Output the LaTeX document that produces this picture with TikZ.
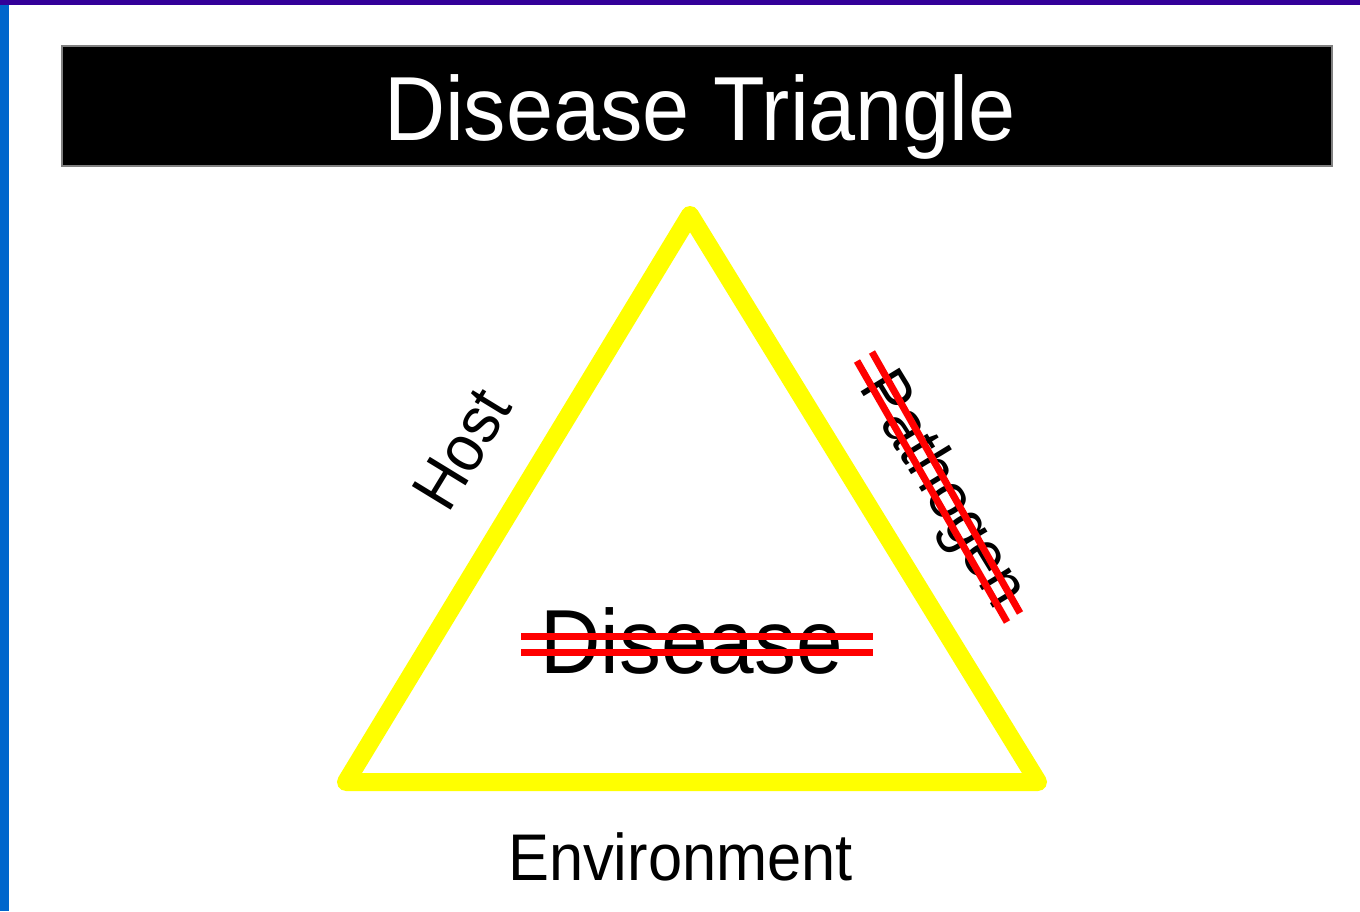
\documentclass[tikz,border=0pt]{standalone}
\usepackage{fontspec}
\setmainfont{Liberation Sans}
\definecolor{topbar}{HTML}{330099}
\definecolor{sidebar}{HTML}{0066CC}
\definecolor{triyellow}{HTML}{FFFF00}
\definecolor{strike}{HTML}{FF0000}
\tikzset{
  lbl/.style={inner sep=0pt, anchor=base, text=black},
  strikeline/.style={draw=strike, line width=7pt},
}
\newcommand{\fs}[1]{\fontsize{#1}{#1}\selectfont}
\begin{document}
\begin{tikzpicture}[x=1pt,y=-1pt]
\useasboundingbox (0,0) rectangle (1360,911);
\fill[white] (0,0) rectangle (1360,911);
\fill[topbar] (0,0) rectangle (1360,5);
\fill[sidebar] (0,5) rectangle (9,911);
% title bar
\draw[fill=black, draw=gray, line width=1.5pt] (62,46) rectangle (1332,166);
\node[lbl, text=white] (title) at (700,140) {\fs{91}\scalebox{0.93}[1]{Disease Triangle}};
% triangle
\coordinate (apex) at (690,215);
\coordinate (bl) at (346,782);
\coordinate (br) at (1038,782);
\draw[triyellow, line width=18pt, line join=round, line cap=round] (apex) -- (br) -- (bl) -- cycle;
% labels
\node[lbl, rotate=58.6] (host) at (481,461) {\fs{66}\scalebox{0.93}[1]{Host}};
\node[lbl, rotate=-58.6] (path) at (927,500) {\fs{66}\scalebox{0.93}[1]{Pathogen}};
\node[lbl] (dis) at (691.5,673) {\fs{91}\scalebox{0.92}[1]{Disease}};
\node[lbl] (env) at (680.5,880) {\fs{66}\scalebox{0.93}[1]{Environment}};
% strike lines
\coordinate (d1a) at (521,636); \coordinate (d1b) at (873,636);
\coordinate (d2a) at (521,652); \coordinate (d2b) at (873,652);
\draw[strikeline] (d1a) -- (d1b);
\draw[strikeline] (d2a) -- (d2b);
\coordinate (p1a) at (857,361); \coordinate (p1b) at (1007,622);
\coordinate (p2a) at (872,352); \coordinate (p2b) at (1020,613);
\draw[strikeline] (p1a) -- (p1b);
\draw[strikeline] (p2a) -- (p2b);
\end{tikzpicture}
\end{document}
